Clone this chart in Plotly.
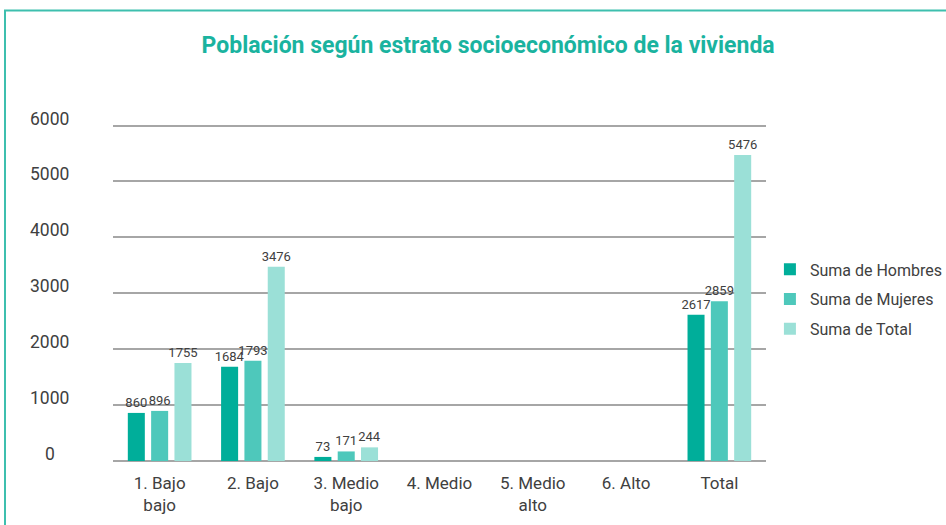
import plotly.graph_objects as go

categorias = ["1. Bajo<br>bajo", "2. Bajo", "3. Medio<br>bajo", "4. Medio",
              "5. Medio<br>alto", "6. Alto", "Total"]
hombres = [860, 1684, 73, None, None, None, 2617]
mujeres = [896, 1793, 171, None, None, None, 2859]
total = [1755, 3476, 244, None, None, None, 5476]
y_ticks = [0, 1000, 2000, 3000, 4000, 5000, 6000]

series = [
    ("Suma de Hombres", hombres, "#00ae9a"),
    ("Suma de Mujeres", mujeres, "#4ec8bb"),
    ("Suma de Total", total, "#9be0d7"),
]

FONT = "Roboto, Arial, sans-serif"
GRIS = "#404040"

fig = go.Figure()
for nombre, valores, color in series:
    fig.add_trace(go.Bar(
        x=categorias, y=valores, name=nombre, legendgroup=nombre,
        marker=dict(color=color, line=dict(width=0)),
        text=[str(v) if v is not None else "" for v in valores],
        textposition="outside", constraintext="none",
        textfont=dict(family=FONT, size=13, color=GRIS),
        cliponaxis=False,
    ))

# etiquetas del eje y, centradas y por encima de cada línea de cuadrícula
for t in y_ticks:
    fig.add_annotation(x=-0.0965, xref="paper", y=t, yref="y",
                       text=str(t), showarrow=False,
                       xanchor="center", yanchor="bottom", yshift=-5,
                       font=dict(family=FONT, size=17.5, color=GRIS))

# marco verde alrededor del gráfico
fig.add_shape(type="rect", xref="paper", yref="paper",
              x0=-0.1654, x1=1.6, y0=-0.5, y1=1.321,
              line=dict(color="#3dbfae", width=2), layer="below")

fig.update_layout(
    width=946, height=525,
    margin=dict(l=113, r=180, t=120, b=64, autoexpand=False),
    paper_bgcolor="white", plot_bgcolor="white",
    barmode="group", bargap=0.25, bargroupgap=0.27,
    title=dict(text="<b>Población según estrato socioeconómico de la vivienda</b>",
               x=0.516, xref="container", xanchor="center",
               y=0.914, yref="container", yanchor="middle",
               font=dict(family=FONT, size=23, color="#1ab39f")),
    legend=dict(x=1.006, xanchor="left", y=0.474, yanchor="middle",
                font=dict(family=FONT, size=16, color=GRIS),
                itemwidth=30, tracegroupgap=6, bgcolor="rgba(0,0,0,0)"),
    font=dict(family=FONT, color=GRIS),
)
fig.update_xaxes(tickfont=dict(family=FONT, size=17, color=GRIS),
                 ticklabelstandoff=10,
                 showline=False, ticks="", showgrid=False)
fig.update_yaxes(range=[0, 6100], tickvals=y_ticks, showticklabels=False,
                 showgrid=True, gridcolor="#a6a6a6", gridwidth=2,
                 zeroline=True, zerolinecolor="#a6a6a6", zerolinewidth=2,
                 showline=False, ticks="")

fig.write_html("out.html", config={"displayModeBar": False},
               post_script="document.body.style.margin='0';")
